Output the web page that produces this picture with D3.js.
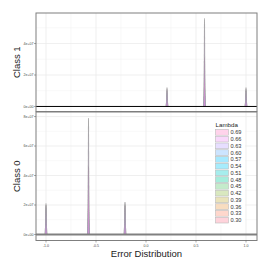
<!DOCTYPE html>
<html>
<head>
<meta charset="utf-8">
<script src="https://cdn.jsdelivr.net/npm/d3@7"></script>
<style>
  body { margin: 0; background: #fff; }
  text { font-family: "Liberation Sans", Arial, sans-serif; }
</style>
</head>
<body>
<div id="chart"></div>
<script>
// lambda levels, legend order top to bottom
var lambdas = ["0.69", "0.66", "0.63", "0.60", "0.57", "0.54", "0.51", "0.48", "0.45", "0.42", "0.39", "0.36", "0.33", "0.30"];

// spike positions on the error axis
var class1Peaks = [0.21, 0.585, 1.0];
var class0Peaks = [-1.0, -0.575, -0.21];

// density height at each spike, one value per lambda (same order as lambdas)
var class1Heights = [
    [1.2e7, 1.1e7, 1.2e7, 1.0e7, 1.1e7, 1.2e7, 0.9e7, 1.1e7, 1.0e7, 1.2e7, 0.9e7, 1.1e7, 1.0e7, 1.2e7],
    [5.6e7, 3.1e7, 5.5e7, 3.0e7, 5.6e7, 3.1e7, 5.4e7, 3.1e7, 5.6e7, 3.0e7, 5.5e7, 3.1e7, 5.6e7, 3.1e7],
    [1.2e7, 1.0e7, 1.1e7, 1.2e7, 0.9e7, 1.1e7, 1.2e7, 1.0e7, 1.1e7, 1.2e7, 1.0e7, 1.1e7, 1.2e7, 1.0e7]
];
var class0Heights = [
    [2.1e7, 1.9e7, 2.1e7, 2.0e7, 1.8e7, 2.1e7, 2.0e7, 1.9e7, 2.1e7, 1.8e7, 2.0e7, 2.1e7, 1.9e7, 2.0e7],
    [7.9e7, 4.6e7, 7.8e7, 4.5e7, 7.9e7, 4.6e7, 7.7e7, 4.6e7, 7.9e7, 4.5e7, 7.8e7, 4.6e7, 7.9e7, 4.6e7],
    [2.2e7, 2.0e7, 2.2e7, 1.9e7, 2.1e7, 2.2e7, 2.0e7, 1.9e7, 2.2e7, 2.0e7, 2.1e7, 2.2e7, 1.9e7, 2.1e7]
];

var xTicks = [-1.0, -0.5, 0.0, 0.5, 1.0];
var xMinor = [-0.75, -0.25, 0.25, 0.75];
var class1Ticks = [0, 2e7, 4e7];
var class0Ticks = [0, 2e7, 4e7, 6e7, 8e7];

var W = 270, H = 270;
var left = 36, right = 257;

var svg = d3.select("#chart").append("svg")
    .attr("width", W).attr("height", H);

var x = d3.scaleLinear().domain([-1.1, 1.11]).range([left, right]);

// ggplot style hue palette, 0.30 gets hue 15
function hueColor(i) {
    var n = lambdas.length;
    var h = 15 + 360 / n * (n - 1 - i);
    return d3.hcl(h, 60, 72) + "";
}

function sciLabel(v) {
    if (v === 0) return "0e+00";
    return (v / 1e7) + "e+07";
}

function drawPanel(top, bottom, yDomain, ticks, peaks, heights, label, zeroStyle, showX) {
    var y = d3.scaleLinear().domain(yDomain).range([bottom, top]);
    var g = svg.append("g");

    g.append("rect")
        .attr("x", left).attr("y", top)
        .attr("width", right - left).attr("height", bottom - top)
        .attr("fill", "#fff");

    // minor grid
    var step = ticks[1] - ticks[0];
    var yMinor = ticks.map(function(t) { return t + step / 2; })
        .filter(function(v) { return y(v) > top; });
    g.selectAll(".ymin").data(yMinor).enter().append("line")
        .attr("x1", left).attr("x2", right)
        .attr("y1", function(d) { return y(d); }).attr("y2", function(d) { return y(d); })
        .attr("stroke", "#f3f3f3").attr("stroke-width", 0.6);
    g.selectAll(".xmin").data(xMinor).enter().append("line")
        .attr("x1", function(d) { return x(d); }).attr("x2", function(d) { return x(d); })
        .attr("y1", top).attr("y2", bottom)
        .attr("stroke", "#f3f3f3").attr("stroke-width", 0.6);
    // major grid
    g.selectAll(".ymaj").data(ticks).enter().append("line")
        .attr("x1", left).attr("x2", right)
        .attr("y1", function(d) { return y(d); }).attr("y2", function(d) { return y(d); })
        .attr("stroke", "#ebebeb").attr("stroke-width", 0.8);
    g.selectAll(".xmaj").data(xTicks).enter().append("line")
        .attr("x1", function(d) { return x(d); }).attr("x2", function(d) { return x(d); })
        .attr("y1", top).attr("y2", bottom)
        .attr("stroke", "#ebebeb").attr("stroke-width", 0.8);

    // densities, one per lambda, drawn from 0.30 up so 0.69 ends on top
    var area = d3.area()
        .x(function(d) { return x(d[0]); })
        .y0(y(0))
        .y1(function(d) { return y(d[1]); });
    var hw = 0.009;
    for (var i = lambdas.length - 1; i >= 0; i--) {
        peaks.forEach(function(p, k) {
            var pts = [[p - hw, 0], [p - hw / 3, heights[k][i] * 0.35], [p, heights[k][i]], [p + hw / 3, heights[k][i] * 0.35], [p + hw, 0]];
            g.append("path")
                .datum(pts)
                .attr("d", area)
                .attr("fill", hueColor(i))
                .attr("fill-opacity", i < 2 ? 0.45 : 0.2)
                .attr("stroke", "#999")
                .attr("stroke-opacity", 0.3)
                .attr("stroke-width", 0.4);
        });
    }

    // zero line
    g.append("line")
        .attr("x1", left).attr("x2", right)
        .attr("y1", y(0)).attr("y2", y(0))
        .attr("stroke", zeroStyle.color).attr("stroke-width", zeroStyle.width);

    // border
    g.append("rect")
        .attr("x", left).attr("y", top)
        .attr("width", right - left).attr("height", bottom - top)
        .attr("fill", "none").attr("stroke", "#7f7f7f").attr("stroke-width", 1);

    // y axis ticks and labels
    g.selectAll(".yt").data(ticks).enter().append("line")
        .attr("x1", left - 2).attr("x2", left)
        .attr("y1", function(d) { return y(d); }).attr("y2", function(d) { return y(d); })
        .attr("stroke", "#555").attr("stroke-width", 0.5);
    g.selectAll(".yl").data(ticks).enter().append("text")
        .attr("x", left - 2.5)
        .attr("y", function(d) { return y(d); })
        .attr("dy", "0.35em")
        .attr("text-anchor", "end")
        .attr("font-size", 3.6)
        .attr("fill", "#4d4d4d")
        .text(sciLabel);

    g.append("text")
        .attr("transform", "translate(" + 20 + "," + ((top + bottom) / 2) + ") rotate(-90)")
        .attr("text-anchor", "middle")
        .attr("font-size", 9.5)
        .attr("fill", "#222")
        .text(label);

    if (showX) {
        g.selectAll(".xt").data(xTicks).enter().append("line")
            .attr("x1", function(d) { return x(d); }).attr("x2", function(d) { return x(d); })
            .attr("y1", bottom).attr("y2", bottom + 2)
            .attr("stroke", "#555").attr("stroke-width", 0.5);
        g.selectAll(".xl").data(xTicks).enter().append("text")
            .attr("x", function(d) { return x(d); })
            .attr("y", bottom + 6.5)
            .attr("text-anchor", "middle")
            .attr("font-size", 3.6)
            .attr("fill", "#4d4d4d")
            .text(function(d) { return d3.format(".1f")(d).replace("−", "-"); });
    }
    return y;
}

drawPanel(13, 111.5, [-3.2e6, 5.94e7], class1Ticks, class1Peaks, class1Heights, "Class 1",
    { color: "#000", width: 1 }, false);
drawPanel(112, 240.5, [-4.1e6, 8.31e7], class0Ticks, class0Peaks, class0Heights, "Class 0",
    { color: "#808080", width: 2 }, true);

// x axis title
svg.append("text")
    .attr("x", (left + right) / 2)
    .attr("y", 257)
    .attr("text-anchor", "middle")
    .attr("font-size", 9.5)
    .attr("fill", "#222")
    .text("Error Distribution");

// legend
var leg = svg.append("g").attr("transform", "translate(214,118)");
leg.append("rect").attr("x", -1).attr("y", 0).attr("width", 32).attr("height", 107).attr("fill", "#fff");
leg.append("text")
    .attr("x", 1.5).attr("y", 9)
    .attr("font-size", 6.2)
    .attr("fill", "#222")
    .text("Lambda");
var keyH = 6.75;
var keys = leg.selectAll(".key").data(lambdas).enter().append("g")
    .attr("transform", function(d, i) { return "translate(1," + (11 + i * keyH) + ")"; });
keys.append("rect")
    .attr("width", 14).attr("height", keyH)
    .attr("fill", "#fff");
keys.append("rect")
    .attr("x", 0.5).attr("y", 0.5)
    .attr("width", 13).attr("height", keyH - 1)
    .attr("fill", function(d, i) { return hueColor(i); })
    .attr("fill-opacity", 0.35)
    .attr("stroke", "#bbb")
    .attr("stroke-width", 0.6);
keys.append("text")
    .attr("x", 15.5).attr("y", keyH / 2)
    .attr("dy", "0.35em")
    .attr("font-size", 5.6)
    .attr("fill", "#333")
    .text(function(d) { return d; });
</script>
</body>
</html>
